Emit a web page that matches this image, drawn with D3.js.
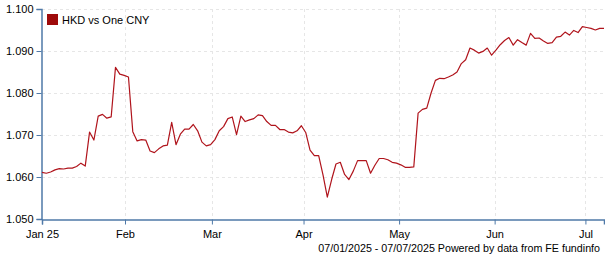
<!DOCTYPE html>
<html>
<head>
<meta charset="utf-8">
<script src="https://cdn.jsdelivr.net/npm/d3@7"></script>
<style>
  body { margin: 0; background: #fff; }
  svg text { font-family: "Liberation Sans", Arial, sans-serif; font-size: 11px; fill: #000; }
</style>
</head>
<body>
<script>
// HKD per one CNY, one value per trading day, 01/01/2025 - 07/07/2025
var rates = [
  1.0611, 1.0609, 1.0612, 1.0617, 1.0620, 1.0619, 1.0621, 1.0621, 1.0625, 1.0633,
  1.0626, 1.0707, 1.0688, 1.0745, 1.0749, 1.0740, 1.0743, 1.0861, 1.0845, 1.0842,
  1.0838, 1.0708, 1.0686, 1.0689, 1.0688, 1.0662, 1.0658, 1.0667, 1.0674, 1.0676,
  1.0730, 1.0677, 1.0702, 1.0714, 1.0714, 1.0725, 1.0710, 1.0683, 1.0674, 1.0677,
  1.0689, 1.0710, 1.0720, 1.0739, 1.0743, 1.0701, 1.0745, 1.0732, 1.0736, 1.0739,
  1.0748, 1.0746, 1.0732, 1.0723, 1.0723, 1.0713, 1.0713, 1.0707, 1.0705, 1.0710,
  1.0722, 1.0706, 1.0664, 1.0651, 1.0651, 1.0605, 1.0552, 1.0594, 1.0631, 1.0635,
  1.0606, 1.0594, 1.0614, 1.0639, 1.0639, 1.0639, 1.0609, 1.0628, 1.0644, 1.0644,
  1.0641, 1.0635, 1.0633, 1.0629, 1.0623, 1.0623, 1.0624, 1.0752, 1.0761, 1.0764,
  1.0800, 1.0830, 1.0835, 1.0834, 1.0838, 1.0843, 1.0850, 1.0870, 1.0879, 1.0907,
  1.0902, 1.0895, 1.0899, 1.0907, 1.0890, 1.0902, 1.0915, 1.0925, 1.0932, 1.0914,
  1.0927, 1.0920, 1.0914, 1.0942, 1.0930, 1.0931, 1.0924, 1.0918, 1.0920, 1.0933,
  1.0935, 1.0945, 1.0938, 1.0949, 1.0944, 1.0958, 1.0956, 1.0954, 1.0950, 1.0954,
  1.0954
];

// month starts, as positions on the trading-day index
var monthLabels = ["Jan 25", "Feb", "Mar", "Apr", "May", "Jun", "Jul"];
var monthPos = [0, 19.2, 39.3, 60.5, 82.6, 104.7, 125.7];

var yTicks = [1.050, 1.060, 1.070, 1.080, 1.090, 1.100];

var seriesName = "HKD vs One CNY";
var footer = "07/01/2025 - 07/07/2025 Powered by data from FE fundinfo";

var width = 605, height = 260;
var margin = {top: 9, right: 1, bottom: 41, left: 42};

var svg = d3.select("body").append("svg")
    .attr("width", width)
    .attr("height", height);

var x = d3.scaleLinear()
    .domain([0, rates.length - 1])
    .range([margin.left, width - margin.right]);

var y = d3.scaleLinear()
    .domain([1.050, 1.100])
    .range([height - margin.bottom, margin.top]);

// grid lines
svg.append("g").selectAll("line.h")
    .data(yTicks.slice(1))
    .join("line")
    .attr("x1", margin.left).attr("x2", width - margin.right)
    .attr("y1", d => Math.round(y(d)) + 0.5).attr("y2", d => Math.round(y(d)) + 0.5)
    .attr("stroke", "#e6e6e6")
    .attr("stroke-dasharray", "3,3");

svg.append("g").selectAll("line.v")
    .data(monthPos.slice(1))
    .join("line")
    .attr("x1", d => Math.round(x(d)) + 0.5).attr("x2", d => Math.round(x(d)) + 0.5)
    .attr("y1", margin.top).attr("y2", height - margin.bottom)
    .attr("stroke", "#e6e6e6")
    .attr("stroke-dasharray", "3,3");

// axes
var yAxis = d3.axisLeft(y)
    .tickValues(yTicks)
    .tickFormat(d3.format(".3f"))
    .tickSize(5)
    .tickPadding(3);

var xAxis = d3.axisBottom(x)
    .tickValues(monthPos)
    .tickFormat((d, i) => monthLabels[i])
    .tickSize(5)
    .tickPadding(6);

var gy = svg.append("g")
    .attr("transform", "translate(" + (margin.left - 0.5) + ",0)")
    .call(yAxis);

var gx = svg.append("g")
    .attr("transform", "translate(0," + (height - margin.bottom + 0.5) + ")")
    .call(xAxis);

[gx, gy].forEach(function(g) {
  g.selectAll(".domain").attr("stroke", "#4f79a8").attr("stroke-width", 1.5);
  g.selectAll(".tick line").attr("stroke", "#4f79a8");
  g.selectAll("text").style("font-size", "11px").attr("fill", "#000");
  g.attr("font-family", null).attr("font-size", null);
});

// the series line
var line = d3.line()
    .x((d, i) => x(i))
    .y(d => y(d));

svg.append("path")
    .datum(rates)
    .attr("fill", "none")
    .attr("stroke", "#b0141c")
    .attr("stroke-width", 1.2)
    .attr("stroke-linejoin", "round")
    .attr("d", line);

// legend
svg.append("rect")
    .attr("x", 47).attr("y", 14)
    .attr("width", 11).attr("height", 11)
    .attr("fill", "#9e0a0a");

svg.append("text")
    .attr("x", 62).attr("y", 23.5)
    .text(seriesName);

// footer
svg.append("text")
    .attr("x", 600).attr("y", 252)
    .attr("text-anchor", "end")
    .style("font-size", "10.7px")
    .text(footer);
</script>
</body>
</html>
